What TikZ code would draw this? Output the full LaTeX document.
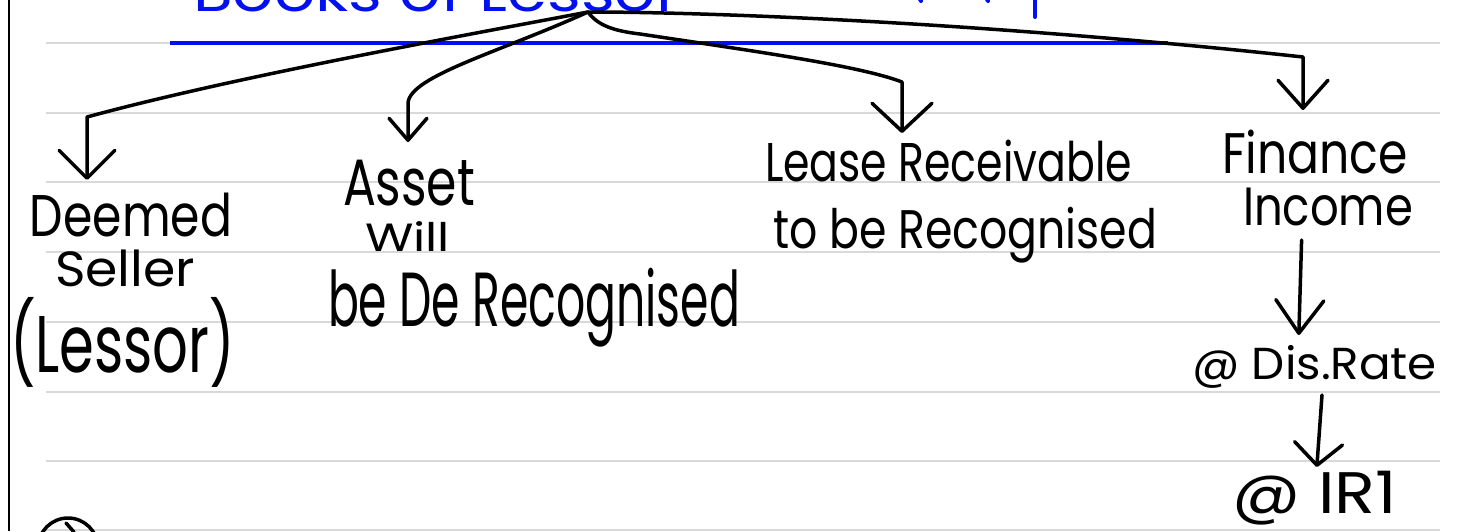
\documentclass[tikz,border=0pt]{standalone}
\usepackage{fontspec}
\setmainfont{Poppins}
\usetikzlibrary{arrows.meta}
\definecolor{ruleGray}{HTML}{D9D9D9}
\definecolor{penBlue}{HTML}{0010F0}
\tikzset{
  rule/.style={draw=ruleGray, line width=2pt},
  ink/.style={draw=black, line width=3.5pt, line cap=round, line join=round},
  bluepen/.style={draw=penBlue, line width=4pt, line cap=round},
  vhead/.style 2 args={-{Straight Barb[length=#1pt, width=#2pt, round]}},
  word/.style={inner sep=0pt, outer sep=0pt, anchor=north west},
}
% box a piece of writing to a given width and total height (in pt)
\newcommand{\hw}[3]{\resizebox*{#1pt}{#2pt}{#3}}

\begin{document}
\begin{tikzpicture}[x=1pt, y=-1pt]
  \useasboundingbox (0,0) rectangle (1458,531);
  \clip (0,0) rectangle (1458,531);
  \fill[white] (0,0) rectangle (1458,531);

  % ruled notebook page
  \foreach \yy in {43,113,182,252,322,392,461,530}
    \draw[rule] (46,\yy) -- (1440,\yy);
  \draw[line width=2pt] (9,0) -- (9,531);

  % heading (runs off the top edge) and its underline
  \node[inner sep=0pt, anchor=south west, text=penBlue] (title) at (193,12)
    {\hw{487}{42}{Books of Lessor}};
  \draw[bluepen] (1035,-4) -- (1035,17);
  \draw[bluepen] (918,-4) -- (921,1);
  \draw[bluepen] (985,-4) -- (988,1);
  \draw[draw=penBlue, line width=3.5pt] (170,43) -- (1168,43);

  % branch labels
  \node[word] (deemed)  at (30,193)  {\hw{202}{44}{Deemed}};
  \node[word] (seller)  at (55,250)  {\hw{140}{37}{Seller}};
  \node[word] (lessor)  at (10,297)  {\hw{225}{90}{(Lessor)}};

  \node[word] (asset)   at (343,160) {\hw{132}{46}{Asset}};
  \node[word] (will)    at (365,222) {\hw{85}{30}{Will}};
  \node[word] (derec)   at (328,268) {\hw{412}{79}{be De Recognised}};

  \node[word] (lease)   at (765,140) {\hw{367}{42}{Lease Receivable}};
  \node[word] (tobe)    at (773,207) {\hw{384}{56}{to be Recognised}};

  \node[word] (finance) at (1222,130) {\hw{186}{44}{Finance}};
  \node[word] (income)  at (1243,188) {\hw{170}{38}{Income}};
  \node[word] (disrate) at (1192,345) {\hw{245}{43}{@ Dis.Rate}};
  \node[word] (irr)     at (1232,471) {\hw{165}{54}{@ IR1}};

  % the fan of branches
  \coordinate (hub) at (588,12);
  \coordinate (c1) at (87,117);
  \coordinate (c2) at (408,103);
  \coordinate (c3) at (902,82);
  \coordinate (c4) at (1303,57);

  \draw[ink, vhead={28}{56}, shorten >=13pt]
    (hub) .. controls (450,38) and (230,78) .. (c1) -- (c1 |- deemed.north);
  \draw[ink, vhead={22}{38}, shorten >=18pt]
    (hub) .. controls (500,52) and (410,76) .. (c2) -- (c2 |- asset.north);
  \draw[ink, vhead={28}{60}, shorten >=7pt]
    (hub) .. controls (598,26) and (615,31) .. (640,34)
          .. controls (760,52) and (860,66) .. (c3) -- (c3 |- lease.north);
  \draw[ink, vhead={28}{50}, shorten >=20pt]
    (hub) .. controls (720,12) and (1000,24) .. (c4) -- (c4 |- finance.north);

  % chain under Finance Income
  \draw[ink, vhead={33}{48}, shorten <=14pt, shorten >=10pt]
    ([xshift=-26pt]income.south) -- ([xshift=-16pt]disrate.north);
  \draw[ink, vhead={22}{48}, shorten <=7pt, shorten >=4pt]
    ([xshift=8pt]disrate.south) -- ([xshift=2pt]irr.north);

  % numbered item starting at the foot of the page
  \draw[ink] (68,548) circle (30);
  \draw[ink] (66,523) -- (74,532);
\end{tikzpicture}
\end{document}
